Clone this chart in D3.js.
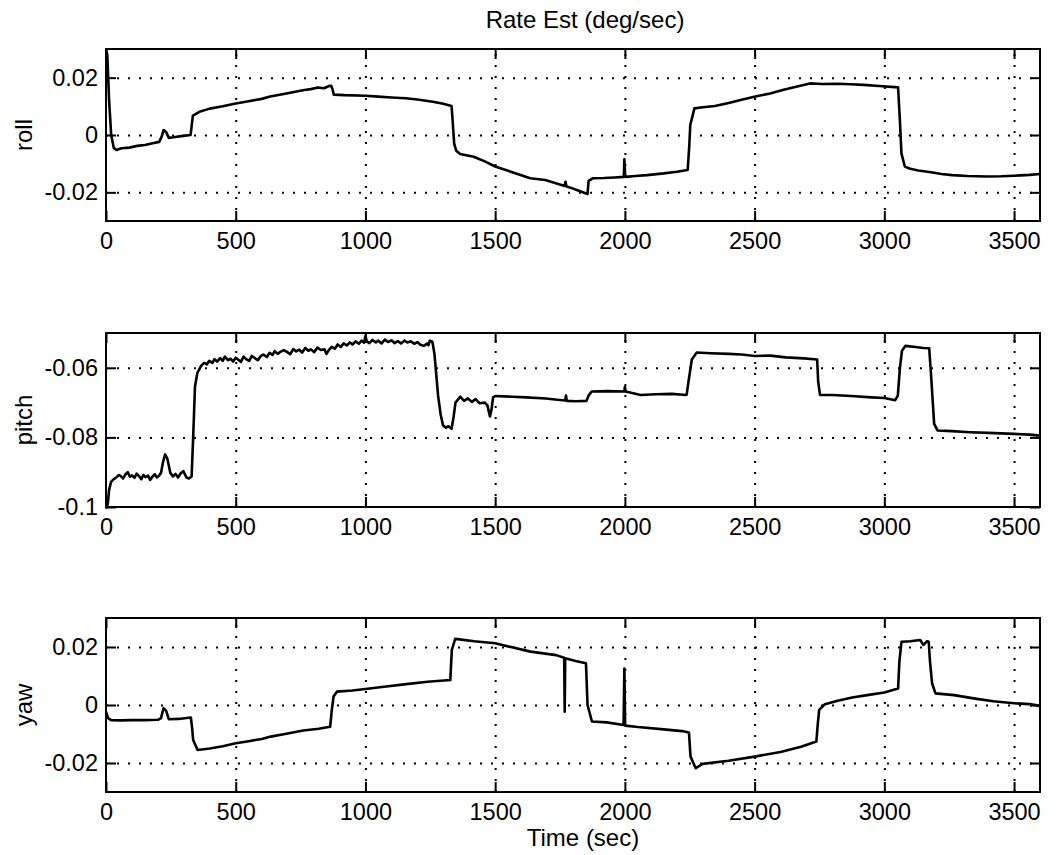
<!DOCTYPE html>
<html><head><meta charset="utf-8">
<script src="https://cdn.jsdelivr.net/npm/d3@7"></script>
<style>
html,body{margin:0;padding:0;background:#fff;}
text{font-family:"Liberation Sans",Arial,Helvetica,sans-serif;fill:#000;}
</style></head>
<body>
<svg id="chart" width="1063" height="855"></svg>
<script>
// ---------- DATA ----------
const titleText = "Rate Est (deg/sec)";
const xLabelText = "Time (sec)";
const panelNames = ["roll", "pitch", "yaw"];
const xTicks = [0, 500, 1000, 1500, 2000, 2500, 3000, 3500];
const rollTicks = [-0.02, 0, 0.02];
const rollTickLabels = ["-0.02", "0", "0.02"];
const pitchTicks = [-0.1, -0.08, -0.06];
const pitchTickLabels = ["-0.1", "-0.08", "-0.06"];
const yawTicks = [-0.02, 0, 0.02];
const yawTickLabels = ["-0.02", "0", "0.02"];

const rollT = [0,5,12,20,30,40,60,90,120,150,180,205,215,222,232,242,260,290,326,330,335,360,400,450,500,550,600,633,680,720,764,790,816,840,860,868,873,878,920,1000,1050,1100,1155,1200,1260,1300,1332,1336,1342,1350,1365,1417,1460,1500,1560,1635,1693,1740,1768,1771,1775,1800,1830,1856,1860,1876,1920,1960,1996,1998,2001,2004,2040,2085,2150,2200,2242,2248,2252,2268,2300,2347,2400,2450,2503,2560,2608,2660,2713,2760,2820,2870,2920,2980,3053,3060,3066,3079,3100,3131,3180,3220,3262,3320,3393,3450,3500,3560,3600];
const rollV = [0.0297,0.028,0.012,0.0,-0.0045,-0.0052,-0.0046,-0.0044,-0.0038,-0.0035,-0.0029,-0.0024,-0.0005,0.0017,0.0010,-0.0010,-0.0008,-0.0004,0.0000,0.0030,0.0068,0.0081,0.0092,0.0100,0.0110,0.0118,0.0126,0.0134,0.0142,0.0149,0.0157,0.0160,0.0166,0.0163,0.0171,0.0172,0.0160,0.0141,0.0139,0.0137,0.0134,0.0131,0.0128,0.0124,0.0116,0.0109,0.0101,0.0050,-0.0030,-0.0055,-0.0066,-0.0076,-0.0092,-0.0110,-0.0128,-0.0151,-0.0157,-0.0170,-0.0178,-0.0163,-0.0180,-0.0187,-0.0197,-0.0206,-0.0160,-0.0151,-0.0150,-0.0148,-0.0146,-0.0085,-0.0140,-0.0146,-0.0143,-0.0140,-0.0134,-0.0128,-0.0122,-0.0040,0.0035,0.0093,0.0097,0.0101,0.0112,0.0123,0.0134,0.0145,0.0157,0.0168,0.0180,0.0178,0.0179,0.0177,0.0175,0.0171,0.0166,0.0050,-0.0064,-0.0110,-0.0118,-0.0124,-0.0130,-0.0136,-0.0140,-0.0143,-0.0145,-0.0144,-0.0142,-0.0139,-0.0136];

const pitchT = [0,7,12,20,30,39,50,58,66,75,84,92,100,110,118,127,136,144,152,162,170,180,188,196,204,212,220,228,236,248,258,268,278,288,298,310,320,330,336,343,352,366,378,389,398,410,418,428,440,450,458,470,480,490,500,510,520,530,540,552,562,575,585,597,607,620,630,642,650,662,672,685,699,710,722,733,745,756,768,780,790,802,815,828,842,850,858,870,882,893,905,916,928,940,950,962,975,985,995,1000,1005,1015,1027,1040,1050,1062,1075,1087,1100,1112,1125,1137,1150,1162,1175,1188,1200,1212,1225,1238,1243,1248,1258,1266,1280,1290,1299,1310,1320,1332,1340,1347,1365,1380,1395,1410,1425,1440,1460,1470,1480,1486,1492,1500,1565,1620,1695,1740,1770,1773,1776,1810,1852,1860,1872,1930,1998,2000,2003,2061,2120,2180,2238,2245,2258,2277,2330,2400,2450,2500,2560,2620,2690,2741,2745,2752,2800,2872,2950,3000,3042,3052,3060,3068,3081,3120,3150,3173,3180,3192,3205,3260,3330,3400,3500,3560,3600];
const pitchV = [-0.1005,-0.0990,-0.0950,-0.0927,-0.0920,-0.0915,-0.0908,-0.0912,-0.0918,-0.0906,-0.0900,-0.0913,-0.0909,-0.0916,-0.0904,-0.0911,-0.0920,-0.0908,-0.0914,-0.0910,-0.0922,-0.0912,-0.0906,-0.0915,-0.0910,-0.0902,-0.0870,-0.0849,-0.0860,-0.0902,-0.0912,-0.0905,-0.0915,-0.0903,-0.0897,-0.0915,-0.0918,-0.0912,-0.0800,-0.0654,-0.0615,-0.0595,-0.0586,-0.0590,-0.0580,-0.0586,-0.0575,-0.0582,-0.0572,-0.0580,-0.0568,-0.0578,-0.0574,-0.0582,-0.0571,-0.0577,-0.0583,-0.0568,-0.0575,-0.0580,-0.0566,-0.0573,-0.0578,-0.0566,-0.0562,-0.0569,-0.0557,-0.0563,-0.0552,-0.0560,-0.0554,-0.0549,-0.0555,-0.0561,-0.0546,-0.0553,-0.0548,-0.0556,-0.0543,-0.0551,-0.0547,-0.0555,-0.0542,-0.0549,-0.0547,-0.0560,-0.0550,-0.0540,-0.0545,-0.0533,-0.0540,-0.0530,-0.0536,-0.0527,-0.0533,-0.0524,-0.0531,-0.0522,-0.0528,-0.0508,-0.0524,-0.0529,-0.0520,-0.0527,-0.0522,-0.0530,-0.0519,-0.0526,-0.0521,-0.0529,-0.0523,-0.0530,-0.0522,-0.0527,-0.0524,-0.0531,-0.0526,-0.0534,-0.0537,-0.0530,-0.0535,-0.0522,-0.0525,-0.0560,-0.0680,-0.0735,-0.0765,-0.0772,-0.0768,-0.0775,-0.0740,-0.0700,-0.0683,-0.0695,-0.0688,-0.0698,-0.0690,-0.0702,-0.0700,-0.0708,-0.0740,-0.0720,-0.0685,-0.0681,-0.0683,-0.0685,-0.0688,-0.0692,-0.0694,-0.0680,-0.0695,-0.0696,-0.0695,-0.0680,-0.0668,-0.0667,-0.0668,-0.0655,-0.0668,-0.0678,-0.0676,-0.0675,-0.0678,-0.0640,-0.0576,-0.0556,-0.0558,-0.0560,-0.0562,-0.0566,-0.0565,-0.0570,-0.0573,-0.0576,-0.0640,-0.0678,-0.0678,-0.0681,-0.0685,-0.0687,-0.0693,-0.0680,-0.0600,-0.0551,-0.0537,-0.0540,-0.0543,-0.0544,-0.0620,-0.0761,-0.0780,-0.0782,-0.0785,-0.0787,-0.0790,-0.0792,-0.0795];

const yawT = [0,8,20,60,100,150,200,212,222,232,242,280,327,332,336,353,400,450,500,550,600,635,700,760,820,864,870,877,890,950,1000,1080,1157,1240,1327,1333,1346,1420,1500,1565,1636,1735,1766,1768,1770,1810,1850,1856,1873,1930,1995,1998,2001,2050,2150,2220,2247,2253,2273,2299,2400,2500,2600,2679,2738,2744,2749,2771,2820,2876,2940,3000,3053,3058,3066,3100,3138,3151,3165,3171,3176,3184,3197,3269,3350,3420,3500,3560,3600];
const yawV = [-0.0023,-0.0045,-0.0052,-0.0053,-0.0052,-0.0052,-0.0051,-0.0045,-0.0011,-0.0020,-0.0049,-0.0048,-0.0043,-0.0080,-0.0121,-0.0155,-0.0150,-0.0142,-0.0132,-0.0125,-0.0117,-0.0109,-0.0098,-0.0088,-0.0082,-0.0075,-0.0020,0.0029,0.0046,0.0050,0.0055,0.0064,0.0072,0.0080,0.0086,0.0190,0.0228,0.0220,0.0213,0.0199,0.0184,0.0172,0.0163,-0.0023,0.0161,0.0152,0.0144,0.0000,-0.0057,-0.0060,-0.0069,0.0126,-0.0071,-0.0076,-0.0084,-0.0090,-0.0095,-0.0178,-0.0218,-0.0203,-0.0192,-0.0178,-0.0162,-0.0144,-0.0126,-0.0060,-0.0017,0.0003,0.0015,0.0026,0.0035,0.0043,0.0057,0.0150,0.0218,0.0220,0.0224,0.0207,0.0220,0.0218,0.0150,0.0075,0.0040,0.0034,0.0022,0.0013,0.0006,0.0003,-0.0003];

const xDomain = [0, 3600];
const rollDomain = [-0.03, 0.03];
const pitchDomain = [-0.1, -0.05];
const yawDomain = [-0.03, 0.03];

// ---------- LAYOUT ----------
const svg = d3.select("#chart");
svg.append("rect").attr("width",1063).attr("height",855).attr("fill","#fff");
const left = 106, right = 1040;
const panels = [
  {name: panelNames[0], top: 49, bottom: 221, domain: rollDomain, ticks: rollTicks, labels: rollTickLabels, T: rollT, V: rollV},
  {name: panelNames[1], top: 333, bottom: 507, domain: pitchDomain, ticks: pitchTicks, labels: pitchTickLabels, T: pitchT, V: pitchV},
  {name: panelNames[2], top: 618, bottom: 792, domain: yawDomain, ticks: yawTicks, labels: yawTickLabels, T: yawT, V: yawV}
];
const x = d3.scaleLinear().domain(xDomain).range([left, right]);
const tickFont = 23.5;

panels.forEach(p => {
  const y = d3.scaleLinear().domain(p.domain).range([p.bottom, p.top]);
  const g = svg.append("g");
  const h = p.bottom - p.top, w = right - left;

  const gx = g.append("g").attr("transform", `translate(0,${p.bottom})`)
    .call(d3.axisBottom(x).tickValues(xTicks.filter(t => t > xDomain[0] && t < xDomain[1])).tickSize(-h).tickFormat(""));
  const gy = g.append("g").attr("transform", `translate(${left},0)`)
    .call(d3.axisLeft(y).tickValues(p.ticks.filter(t => t > p.domain[0] && t < p.domain[1])).tickSize(-w).tickFormat(""));
  [gx, gy].forEach(a => {
    a.select(".domain").remove();
    a.selectAll(".tick line").attr("stroke","#000").attr("stroke-width",2)
      .attr("stroke-dasharray","2,9").attr("stroke-linecap","butt");
  });

  const n = Math.min(p.T.length, p.V.length);
  const pts = p.T.slice(0, n).map((t,i) => [t, p.V[i]]);
  g.append("path").datum(pts)
    .attr("fill","none").attr("stroke","#000").attr("stroke-width",2.6)
    .attr("stroke-linejoin","round")
    .attr("d", d3.line().x(d => x(d[0])).y(d => y(d[1])));

  const ab = g.append("g").attr("transform", `translate(0,${p.bottom})`)
    .call(d3.axisBottom(x).tickValues(xTicks).tickSize(-10).tickPadding(11).tickFormat(d3.format("d")));
  const at = g.append("g").attr("transform", `translate(0,${p.top})`)
    .call(d3.axisTop(x).tickValues(xTicks).tickSize(-10).tickFormat(""));
  const al = g.append("g").attr("transform", `translate(${left},0)`)
    .call(d3.axisLeft(y).tickValues(p.ticks).tickSize(-10).tickPadding(8).tickFormat((d,i) => p.labels[i]));
  const ar = g.append("g").attr("transform", `translate(${right},0)`)
    .call(d3.axisRight(y).tickValues(p.ticks).tickSize(-10).tickFormat(""));
  [ab, at, al, ar].forEach(a => {
    a.select(".domain").remove();
    a.selectAll(".tick line").attr("stroke","#000").attr("stroke-width",2);
    a.selectAll("text").style("font-size", tickFont + "px").attr("fill","#000");
  });
  al.selectAll(".tick text").attr("x", -8);

  g.append("rect").attr("x", left).attr("y", p.top).attr("width", w).attr("height", h)
    .attr("fill","none").attr("stroke","#000").attr("stroke-width",2);

  g.append("text").attr("transform", `translate(32,${(p.top + p.bottom)/2}) rotate(-90)`)
    .attr("text-anchor","middle").style("font-size","24px").text(p.name);
});

svg.append("text").attr("x", 585).attr("y", 28).attr("text-anchor","middle")
  .style("font-size","24px").text(titleText);
svg.append("text").attr("x", 583).attr("y", 846).attr("text-anchor","middle")
  .style("font-size","24px").text(xLabelText);
</script>
</body></html>
